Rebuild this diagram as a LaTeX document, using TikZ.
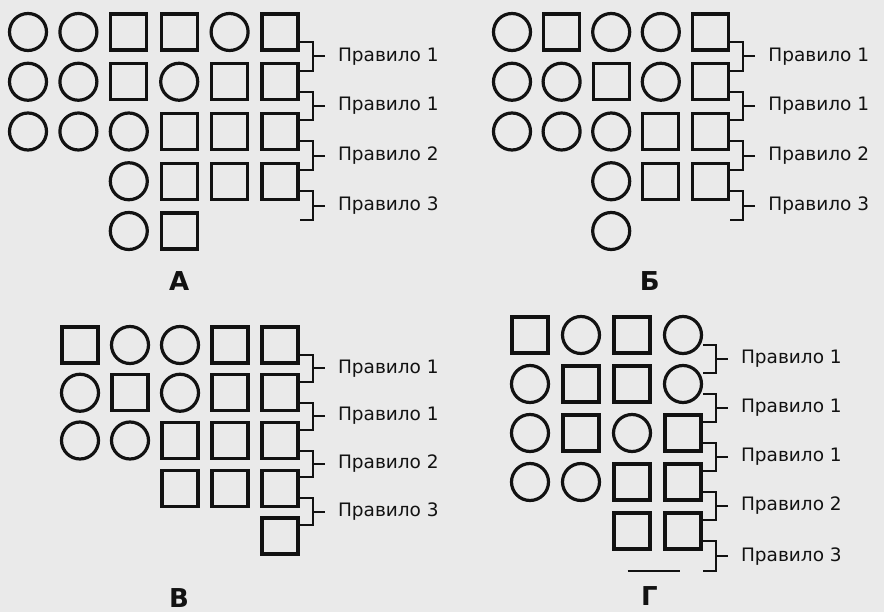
\documentclass[tikz,border=0pt]{standalone}
\usepackage{fontspec}
\setmainfont{DejaVu Sans}
\usetikzlibrary{calc}
\definecolor{SchFon}{HTML}{EAEAEA}
\definecolor{SchInk}{HTML}{121212}

\tikzset{
  krug/.style={circle, draw=SchInk, line width=3.2pt, minimum size=37pt, inner sep=0pt},
  kvad/.style={rectangle, draw=SchInk, line width=3.2pt, minimum size=36pt, inner sep=0pt},
  skobka/.style={draw=SchInk, line width=2pt},
  pravilo/.style={anchor=west, inner xsep=12pt, text=SchInk, font=\fontsize{18.5}{19}\selectfont},
  bukva/.style={text=SchInk, font=\bfseries\fontsize{26}{26}\selectfont},
}

% ряд фигур: панель, номер ряда, первая колонка, фигуры
\newcommand{\ryad}[4]{%
  \foreach \f [count=\k from #3] in {#4}
    \node[\f] (#1#2\k) at (\k-1,#2-1) {};
}
% концы скобок справа от рядов
\newcommand{\kraya}[3]{%
  \foreach \r in {1,...,#3} {
    \coordinate (#1\r n) at ([shift={(20pt,-10pt)}]#2,\r-1);
    \coordinate (#1\r v) at ([shift={(20pt,11pt)}]#2,\r-1);
  }
}
% скобка с подписью
\newcommand{\pravilo}[4]{%
  \draw[skobka] (#1) -- ++(13pt,0) |- (#2);
  \draw[skobka] ([xshift=13pt]$(#1)!.5!(#2)$) -- ++(12pt,0) node[pravilo] (#3) {#4};
}

\begin{document}
\begin{tikzpicture}[x=1pt, y=-1pt]
\fill[SchFon] (0,0) rectangle (884,612);
\useasboundingbox (0,0) rectangle (884,612);

% А
\begin{scope}[shift={(28,32)}, x=50.4pt, y=-49.75pt]
  \ryad{a}{1}{1}{krug,krug,kvad,kvad,krug,kvad}
  \ryad{a}{2}{1}{krug,krug,kvad,krug,kvad,kvad}
  \ryad{a}{3}{1}{krug,krug,krug,kvad,kvad,kvad}
  \ryad{a}{4}{3}{krug,kvad,kvad,kvad}
  \ryad{a}{5}{3}{krug,kvad}
  \kraya{a}{5}{5}
  \foreach \t [count=\r] in {1,1,2,3} {
    \pgfmathtruncatemacro\nxt{\r+1}
    \pravilo{a\r n}{a\nxt v}{pa\r}{Правило \t}
  }
  \node[bukva] (la) at (3,5) {А};
\end{scope}

% Б
\begin{scope}[shift={(512,32)}, x=49.6pt, y=-49.75pt]
  \ryad{b}{1}{1}{krug,kvad,krug,krug,kvad}
  \ryad{b}{2}{1}{krug,krug,kvad,krug,kvad}
  \ryad{b}{3}{1}{krug,krug,krug,kvad,kvad}
  \ryad{b}{4}{3}{krug,kvad,kvad}
  \ryad{b}{5}{3}{krug}
  \kraya{b}{4}{5}
  \foreach \t [count=\r] in {1,1,2,3} {
    \pgfmathtruncatemacro\nxt{\r+1}
    \pravilo{b\r n}{b\nxt v}{pb\r}{Правило \t}
  }
  \node[bukva] (lb) at (2.78,5) {Б};
\end{scope}

% В
\begin{scope}[shift={(80,345)}, x=50pt, y=-47.75pt]
  \ryad{c}{1}{1}{kvad,krug,krug,kvad,kvad}
  \ryad{c}{2}{1}{krug,kvad,krug,kvad,kvad}
  \ryad{c}{3}{1}{krug,krug,kvad,kvad,kvad}
  \ryad{c}{4}{3}{kvad,kvad,kvad}
  \ryad{c}{5}{5}{kvad}
  \kraya{c}{4}{5}
  \foreach \t [count=\r] in {1,1,2,3} {
    \pgfmathtruncatemacro\nxt{\r+1}
    \pravilo{c\r n}{c\nxt v}{pc\r}{Правило \t}
  }
  \node[bukva] (lc) at (1.98,5.29) {В};
\end{scope}

% Г
\begin{scope}[shift={(530,335)}, x=51pt, y=-49pt]
  \ryad{g}{1}{1}{kvad,krug,kvad,krug}
  \ryad{g}{2}{1}{krug,kvad,kvad,krug}
  \ryad{g}{3}{1}{krug,kvad,krug,kvad}
  \ryad{g}{4}{1}{krug,krug,kvad,kvad}
  \ryad{g}{5}{3}{kvad,kvad}
  \kraya{g}{3}{5}
  \node[minimum width=52pt, minimum height=0pt, inner sep=0pt] (g61) at (2.43,4.82) {};
  \draw[skobka, line width=2.5pt] (g61.west) -- (g61.east);
  \coordinate (g6v) at (g61 -| g5v);
  \foreach \t [count=\r] in {1,1,1,2,3} {
    \pgfmathtruncatemacro\nxt{\r+1}
    \pravilo{g\r n}{g\nxt v}{pg\r}{Правило \t}
  }
  \node[bukva] (lg) at (2.34,5.33) {Г};
\end{scope}
\end{tikzpicture}
\end{document}
